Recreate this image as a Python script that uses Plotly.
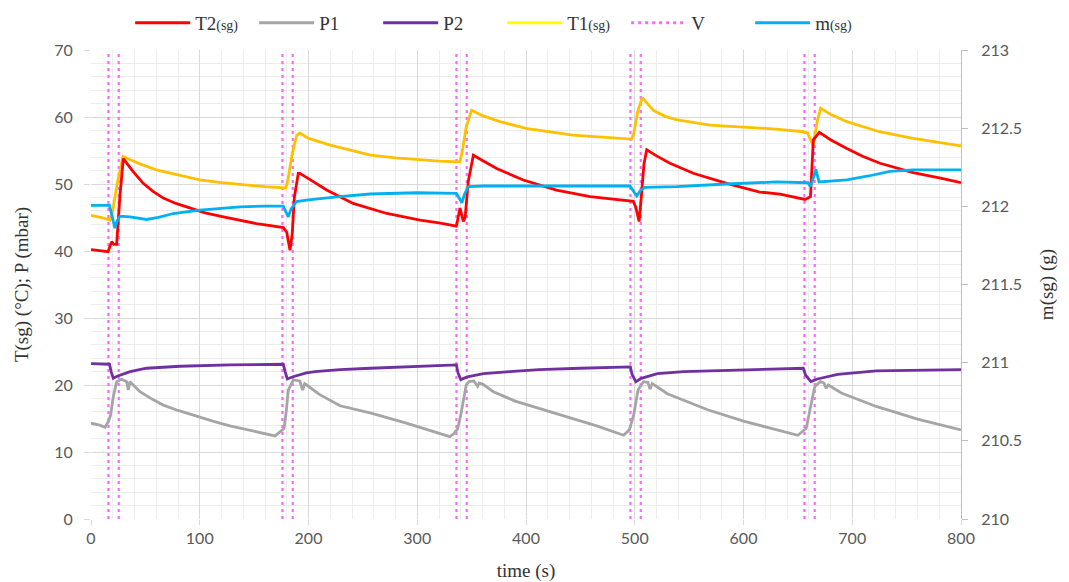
import plotly.graph_objects as go

# ---------------- data ----------------
t_T1 = [0, 10, 17.5, 20, 24, 29.4, 35, 45, 60, 80, 100, 120, 137, 160, 179,
        181, 185, 189, 192, 200, 220, 240, 257, 280, 300, 320, 339,
        341, 345, 350, 360, 376, 400, 420, 443, 470, 497,
        499, 503, 507, 517, 528, 538, 569, 600, 630, 655, 659, 664, 668, 671,
        680, 695, 710, 725, 756, 780, 800]
T1 = [45.3, 45.0, 44.6, 46.0, 50.0, 54.1, 53.7, 53.0, 52.1, 51.3, 50.6, 50.2, 49.9, 49.6, 49.4,
      50.5, 54.5, 57.2, 57.6, 56.8, 55.8, 55.0, 54.3, 53.9, 53.6, 53.4, 53.3,
      54.5, 58.5, 61.0, 60.2, 59.3, 58.3, 57.8, 57.3, 57.0, 56.7,
      57.5, 61.0, 62.9, 61.0, 60.1, 59.6, 58.8, 58.5, 58.2, 57.8, 57.6, 55.7, 59.5, 61.3,
      60.4, 59.3, 58.5, 57.8, 56.8, 56.2, 55.7]

t_T2 = [0, 10, 15.6, 17, 19, 21, 23.6, 26.5, 29.7, 38, 48, 57, 66.5, 78, 91, 105, 121.7, 137, 152, 165, 176.8,
        180, 183, 185, 187, 190.6, 192, 200, 216.7, 241, 272, 302.5, 320, 336,
        339.3, 342.4, 344, 347, 351.6, 360, 373, 397.5, 428, 458.9, 480, 498.7,
        501, 504, 506, 508.5, 511, 520, 532.4, 553.8, 584.5, 615, 633.6, 656.6,
        661.6, 664.2, 669.7, 680, 695, 710, 725.5, 756, 780, 800]
T2 = [40.2, 40.0, 39.9, 40.5, 41.4, 41.0, 41.0, 48.0, 53.8, 52.0, 50.1, 48.9, 47.9, 47.1, 46.4, 45.7, 45.1, 44.6, 44.1, 43.8, 43.5,
      42.8, 40.1, 42.5, 48.0, 51.6, 51.6, 50.8, 49.1, 47.1, 45.6, 44.6, 44.2, 43.7,
      46.4, 44.4, 45.0, 50.5, 54.3, 53.5, 52.3, 50.6, 49.1, 48.1, 47.7, 47.4,
      46.5, 44.4, 48.0, 53.0, 55.1, 54.2, 53.1, 51.6, 50.1, 48.8, 48.5, 47.7,
      48.1, 56.6, 57.7, 56.6, 55.3, 54.1, 53.1, 51.7, 50.9, 50.2]

t_P1 = [0, 8, 12.9, 15.9, 18, 20.5, 23.6, 28.2, 32.8, 34.3, 35.9, 40, 45, 55, 66.5, 80, 97.2, 112, 127.8, 150, 169.2,
        173.8, 177.5, 179.5, 181.4, 186, 192, 194.6, 196.5, 198.3, 210, 229, 257.5, 290, 310, 330,
        334, 337, 340, 342.6, 345, 347.6, 352, 355.5, 357, 360.5, 370, 390, 412, 440, 465, 489.8,
        495, 499, 503, 508, 512, 514, 516, 530, 567, 600, 630, 650,
        657.6, 661, 665.5, 670.6, 674, 676, 678, 690, 722, 760, 800]
P1 = [14.3, 14.0, 13.7, 14.5, 15.5, 18.25, 20.5, 20.85, 20.5, 19.25, 20.5, 19.8, 19.0, 18.0, 17.0, 16.2, 15.3, 14.6, 13.9, 13.1, 12.4,
      13.0, 13.5, 16.0, 19.25, 20.75, 20.6, 19.25, 20.2, 20.0, 18.6, 16.9, 15.8, 14.3, 13.3, 12.3,
      12.8, 13.4, 15.5, 17.8, 20.0, 20.5, 20.6, 19.8, 20.3, 20.1, 19.0, 17.6, 16.5, 15.2, 13.9, 12.5,
      13.3, 15.5, 19.25, 20.5, 20.4, 19.4, 20.2, 18.7, 16.3, 14.6, 13.4, 12.5,
      13.5, 16.0, 19.75, 20.5, 20.3, 19.5, 20.0, 18.8, 16.8, 14.9, 13.3]

t_P2 = [0, 10, 17, 18.5, 20.5, 24, 30, 36, 51, 82, 128, 176.8,
        178.5, 180.5, 185, 198, 206, 229, 257, 300, 336,
        337.5, 340, 346, 361, 385, 412, 450, 496,
        497.5, 501, 506, 520.8, 545, 567, 610, 655,
        657, 662, 668, 686.6, 722, 760, 800]
P2 = [23.2, 23.2, 23.1, 22.0, 21.0, 21.3, 21.7, 22.0, 22.5, 22.8, 23.0, 23.1,
      22.0, 20.9, 21.2, 21.8, 22.0, 22.3, 22.5, 22.8, 23.0,
      21.8, 20.8, 21.2, 21.7, 22.0, 22.3, 22.5, 22.7,
      21.6, 20.5, 21.0, 21.7, 22.0, 22.1, 22.4, 22.5,
      21.5, 20.5, 20.9, 21.6, 22.1, 22.2, 22.3]

t_m = [0, 10, 17, 19, 22, 24, 26.7, 35.9, 51, 62, 75.7, 100, 120, 137, 160, 176.8,
       181.4, 184, 189, 198, 226, 256.6, 299.5, 336,
       341, 343.5, 347, 360.8, 400, 443.5, 495.6,
       501.8, 505, 509.4, 538.5, 584.5, 630.5, 659.6,
       661.5, 663.5, 666.5, 669.5, 695, 715, 734.7, 756, 800]
m = [212.006, 212.006, 212.006, 211.950, 211.860, 211.907, 211.937, 211.933, 211.916, 211.929, 211.954, 211.976, 211.989, 211.997, 212.001, 212.001,
     211.933, 211.984, 212.031, 212.040, 212.061, 212.079, 212.087, 212.083,
     212.023, 212.079, 212.126, 212.130, 212.130, 212.130, 212.130,
     212.066, 212.100, 212.121, 212.126, 212.143, 212.156, 212.151,
     212.126, 212.164, 212.237, 212.156, 212.169, 212.194, 212.224, 212.233, 212.233]

V_times = [16, 25.5, 176, 185.5, 336, 345.5, 496, 505.5, 656, 665.5]
V_span = [0, 70]

x_ticks = [0, 100, 200, 300, 400, 500, 600, 700, 800]
y_ticks = [0, 10, 20, 30, 40, 50, 60, 70]
y2_ticks = [210, 210.5, 211, 211.5, 212, 212.5, 213]

# ---------------- styles ----------------
C_T2 = "#FF0000"
C_P1 = "#A5A5A5"
C_P2 = "#7030A0"
C_T1 = "#FFC000"
C_T1_LEG = "#FFFF00"
C_V = "#FF66FF"
C_M = "#00B0F0"
LW = 2.8
SERIF = "Liberation Serif, Times New Roman, serif"
SANS = "Lato, Liberation Sans, sans-serif"
SUB = "<span style='font-size:14px'>(sg)</span>"

fig = go.Figure()

# V dotted verticals
vx, vy = [], []
for t in V_times:
    vx += [t, t, None]
    vy += [V_span[0], V_span[1], None]
fig.add_trace(go.Scatter(x=vx, y=vy, mode="lines", name="V", showlegend=False,
                         line=dict(color=C_V, width=2.2, dash="3px,4px")))

fig.add_trace(go.Scatter(x=t_P1, y=P1, mode="lines", name="P1", showlegend=False,
                         line=dict(color=C_P1, width=LW)))
fig.add_trace(go.Scatter(x=t_P2, y=P2, mode="lines", name="P2", showlegend=False,
                         line=dict(color=C_P2, width=LW)))
fig.add_trace(go.Scatter(x=t_T1, y=T1, mode="lines", name="T1(sg)", showlegend=False,
                         line=dict(color=C_T1, width=LW)))
fig.add_trace(go.Scatter(x=t_T2, y=T2, mode="lines", name="T2(sg)", showlegend=False,
                         line=dict(color=C_T2, width=LW)))
fig.add_trace(go.Scatter(x=t_m, y=m, mode="lines", name="m(sg)", showlegend=False,
                         yaxis="y2", line=dict(color=C_M, width=LW)))

# legend entries (in the reference's order and legend colours)
leg = [("T2" + SUB, C_T2, "solid"), ("P1", C_P1, "solid"), ("P2", C_P2, "solid"),
       ("T1" + SUB, C_T1_LEG, "solid"), ("V", C_V, "3px,4px"), ("m" + SUB, C_M, "solid")]
for name, col, dash in leg:
    fig.add_trace(go.Scatter(x=[None], y=[None], mode="lines", name=name,
                             line=dict(color=col, width=3, dash=dash)))

# the page body has an 8px default margin, so the figure is 8px smaller
fig.update_layout(
    width=1061, height=574,
    margin=dict(l=83, r=108, t=42, b=63, autoexpand=False),
    paper_bgcolor="white", plot_bgcolor="white",
    showlegend=True,
    legend=dict(orientation="h", x=0.045, xanchor="left", y=1.058, yanchor="middle",
                font=dict(family=SERIF, size=19, color="#333333"),
                itemwidth=55, entrywidth=54, tracegroupgap=0, bgcolor="rgba(0,0,0,0)"),
    xaxis=dict(range=[0, 800], tickvals=x_ticks, showgrid=True, gridcolor="#D9D9D9", gridwidth=1,
               minor=dict(dtick=20, showgrid=True, gridcolor="#EDEDED", gridwidth=1),
               zeroline=False, showline=False, ticks="outside", ticklen=5, tickcolor="#D9D9D9",
               tickfont=dict(family=SANS, size=16, color="#595959"),
               title=dict(text="time (s)", font=dict(family=SERIF, size=19, color="#333333"), standoff=17)),
    yaxis=dict(range=[0, 70], tickvals=y_ticks, showgrid=True, gridcolor="#D9D9D9", gridwidth=1,
               minor=dict(dtick=2, showgrid=True, gridcolor="#EDEDED", gridwidth=1),
               zeroline=False, showline=False, ticks="outside", ticklen=6, tickcolor="#D9D9D9",
               ticklabelstandoff=8,
               tickfont=dict(family=SANS, size=16, color="#595959"),
               title=dict(text="T(sg) (°C); P (mbar)", font=dict(family=SERIF, size=19, color="#333333"), standoff=20)),
    yaxis2=dict(range=[210, 213], tickvals=y2_ticks, overlaying="y", side="right",
                showgrid=False, zeroline=False, showline=True, linecolor="#BFBFBF", linewidth=1,
                ticks="outside", ticklen=6, tickcolor="#BFBFBF", ticklabelstandoff=10,
                tickfont=dict(family=SANS, size=16, color="#595959"),
                title=dict(text="m(sg) (g)", font=dict(family=SERIF, size=19, color="#333333"), standoff=18)),
)

fig.write_html("out.html")
